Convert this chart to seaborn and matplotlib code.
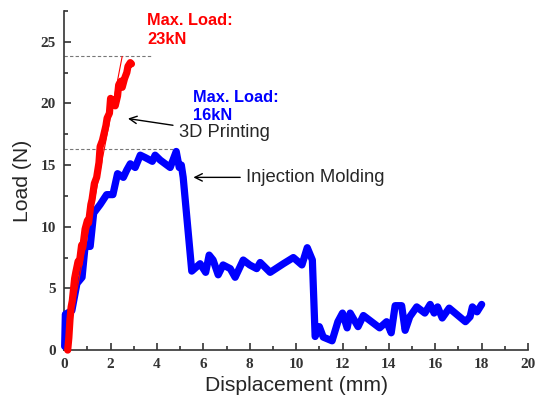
import numpy as np
import pandas as pd
import seaborn as sns
import matplotlib
matplotlib.use("Agg")
import matplotlib.pyplot as plt
from matplotlib.ticker import MultipleLocator

# 3D printing (red)
x_print = [0.15, 0.2, 0.25, 0.3, 0.35, 0.45, 0.5, 0.6, 0.65, 0.75, 0.8, 0.9, 1.0, 1.05,
           1.15, 1.2, 1.3, 1.4, 1.5, 1.55, 1.65, 1.7, 1.8, 1.85, 1.95, 2.0, 2.1, 2.2,
           2.3, 2.35, 2.45, 2.5, 2.6, 2.7, 2.75, 2.85, 2.9]
y_print = [0.0, 1.0, 2.5, 3.5, 4.0, 5.8, 6.3, 7.2, 7.0, 8.5, 8.3, 9.8, 10.5, 10.3,
           11.8, 12.2, 13.5, 14.0, 15.2, 16.5, 17.0, 17.4, 18.2, 18.8, 19.2, 20.4, 20.2, 19.8,
           20.6, 21.5, 21.8, 21.3, 22.0, 22.5, 23.0, 23.3, 23.2]

# linear fit line on the 3D printing curve
x_fit = [0.05, 2.5]
y_fit = [0.0, 23.8]

# injection molding (blue)
x_mold = [0.02, 0.05, 0.33, 0.55, 0.77, 0.9, 1.12, 1.27, 1.55, 1.83, 2.1, 2.3, 2.55,
          2.7, 2.85, 3.06, 3.28, 3.5, 3.8, 3.92, 4.14, 4.57, 4.83, 4.96, 5.05, 5.13,
          5.5, 5.86, 6.1, 6.25, 6.42, 6.64, 6.85, 7.16, 7.37, 7.72, 8.0, 8.3, 8.45,
          8.88, 9.45, 9.88, 10.25, 10.48, 10.7, 10.82, 11.0, 11.17, 11.55, 11.8, 12.0,
          12.2, 12.33, 12.67, 12.9, 13.6, 13.9, 14.1, 14.27, 14.55, 14.7, 14.9, 15.2,
          15.55, 15.78, 15.95, 16.1, 16.3, 16.6, 17.3, 17.5, 17.6, 17.8, 18.0]
y_mold = [0.3, 2.9, 3.2, 5.4, 5.9, 8.4, 8.4, 11.1, 11.8, 12.6, 12.6, 14.3, 14.0,
          14.6, 15.1, 14.8, 15.8, 15.6, 15.3, 15.8, 15.4, 14.8, 16.1, 14.8, 15.0, 14.0,
          6.4, 7.0, 6.3, 7.7, 7.3, 6.1, 6.9, 6.6, 5.9, 7.3, 6.9, 6.6, 7.1,
          6.3, 7.0, 7.5, 6.9, 8.3, 7.3, 1.1, 1.9, 1.05, 0.75, 2.3, 3.0,
          1.8, 3.0, 1.9, 2.8, 1.8, 2.3, 1.4, 3.6, 3.6, 1.6, 2.7, 3.5,
          3.0, 3.7, 3.0, 3.5, 2.6, 3.4, 2.3, 2.7, 3.5, 3.1, 3.7]

max_print = 23.8
max_mold = 16.3

df_print = pd.DataFrame({"x": x_print, "y": y_print})
df_mold = pd.DataFrame({"x": x_mold, "y": y_mold})

sns.set_style("ticks")
fig = plt.figure(figsize=(5.35, 4.01), dpi=100)
ax = fig.add_axes([0.12, 0.127, 0.867, 0.846])

sns.lineplot(data=df_mold, x="x", y="y", ax=ax, color="#0000ff", linewidth=5.2,
             sort=False, estimator=None, clip_on=False, zorder=3)
sns.lineplot(data=df_print, x="x", y="y", ax=ax, color="#ff0000", linewidth=5.2,
             sort=False, estimator=None, clip_on=False, zorder=4)
ax.plot(x_fit, y_fit, color="#ff0000", linewidth=0.8, zorder=5)

# max load dashed guides
ax.plot([0, 3.8], [max_print, max_print], color="#777777", linestyle=(0, (3, 2)), linewidth=0.8)
ax.plot([0, 4.9], [max_mold, max_mold], color="#777777", linestyle=(0, (3, 2)), linewidth=0.8)

ax.set_xlim(0, 20)
ax.set_ylim(0, 27.5)
ax.xaxis.set_major_locator(MultipleLocator(2))
ax.xaxis.set_minor_locator(MultipleLocator(1))
ax.yaxis.set_major_locator(MultipleLocator(5))
ax.yaxis.set_minor_locator(MultipleLocator(2.5))
ax.tick_params(which="both", direction="in", width=1.2, color="#333333")
ax.tick_params(which="major", length=5, labelsize=11, pad=6)
ax.tick_params(which="minor", length=3)
for lab in ax.get_xticklabels() + ax.get_yticklabels():
    lab.set_fontfamily("Liberation Serif")
    lab.set_fontweight("bold")
    lab.set_color("#333333")

sns.despine(ax=ax)
for s in ["left", "bottom"]:
    ax.spines[s].set_linewidth(1.2)
    ax.spines[s].set_color("#333333")

ax.set_xlabel("Displacement (mm)", fontsize=15.2, family="Liberation Sans", labelpad=3)
ax.set_ylabel("Load (N)", fontsize=15.2, family="Liberation Sans", labelpad=6)

ax.text(3.58, 27.3, "Max. Load:\n23kN", color="#ff0000", fontsize=11.8, fontweight="bold",
        family="Liberation Sans", va="top", ha="left", linespacing=1.3)
ax.text(5.55, 21.1, "Max. Load:\n16kN", color="#0000ff", fontsize=11.8, fontweight="bold",
        family="Liberation Sans", va="top", ha="left", linespacing=1.3)

ax.annotate("3D Printing", xy=(2.63, 18.8), xytext=(4.95, 17.6), fontsize=13.2,
            family="Liberation Sans", va="center", ha="left",
            arrowprops=dict(arrowstyle="->", color="black", lw=1))
ax.annotate("Injection Molding", xy=(5.45, 14.0), xytext=(7.85, 14.0), fontsize=13.3,
            family="Liberation Sans", va="center", ha="left",
            arrowprops=dict(arrowstyle="->", color="black", lw=1))

fig.savefig("out.png", dpi=100)
